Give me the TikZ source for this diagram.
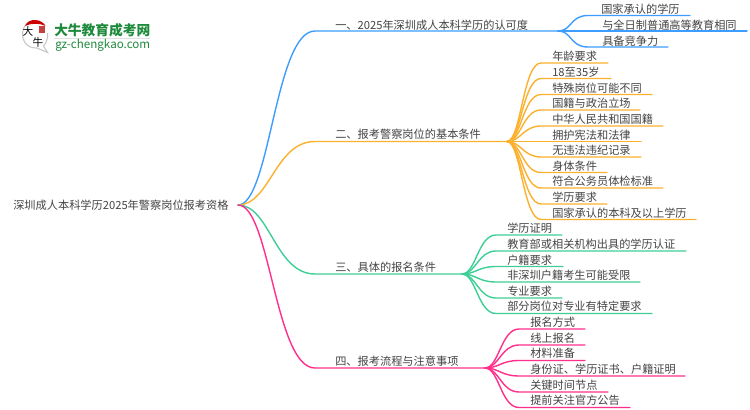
\documentclass[tikz,border=0pt]{standalone}
\usepackage{fontspec}
\setmainfont{Noto Sans CJK SC}
\usetikzlibrary{calc}
\definecolor{cblue}{HTML}{3D9DFF}
\definecolor{corange}{HTML}{FBB12D}
\definecolor{cgreen}{HTML}{3ECF97}
\definecolor{cpink}{HTML}{FF2F8B}
\definecolor{ctext}{HTML}{444444}
\definecolor{logogreen}{HTML}{1E8A3C}
\tikzset{
  lbl/.style={inner sep=0pt,anchor=west,yshift=-0.4pt,text=ctext,font=\fontsize{8.4pt}{10pt}\selectfont},
  conn/.style={line width=1.05pt,line cap=round},
}
% name, colour, junction, y line, x curve end, x line end, x text, y text, text
\newcommand\leaf[9]{%
  \node[lbl] (#1) at (#7,#8) {#9};
  \coordinate (#1s) at (#5,#4);
  \coordinate (#1e) at (#6,#4);
  \draw[conn,#2] (#3) .. controls ($(#3)+(14,0)$) and ($(#1s)+(-18,0)$) .. (#1s) -- (#1e);
}
\begin{document}
\begin{tikzpicture}[x=0.75pt,y=-0.75pt]
\useasboundingbox (0,0) rectangle (750,410);
\fill[white] (0,0) rectangle (750,410);
% root
\node[lbl] (root) at (13,205) {深圳成人本科学历2025年警察岗位报考资格};
\coordinate (r) at (238,205);
% main branches
\coordinate (j1) at (558,31);
\coordinate (j2) at (507,141.5);
\coordinate (j3) at (462,274);
\coordinate (j4) at (485,368);
\node[lbl] (b1) at (335,25) {一、2025年深圳成人本科学历的认可度};
\node[lbl] (b2) at (335,134) {二、报考警察岗位的基本条件};
\node[lbl] (b3) at (335,267) {三、具体的报名条件};
\node[lbl] (b4) at (335,361) {四、报考流程与注意事项};
\coordinate (b1s) at (315,31);
\coordinate (b2s) at (315,141.5);
\coordinate (b3s) at (315,274);
\coordinate (b4s) at (315,368);
\draw[conn,cblue] (r) .. controls (270,205) and (275,31) .. (b1s) -- (j1);
\draw[conn,corange] (r) .. controls (270,205) and (275,141.5) .. (b2s) -- (j2);
\draw[conn,cgreen] (r) .. controls (270,205) and (275,274) .. (b3s) -- (j3);
\draw[conn,cpink] (r) .. controls (270,205) and (275,368) .. (b4s) -- (j4);
% branch 1
\leaf{a1}{cblue}{j1}{15.5}{588}{690}{601}{9}{国家承认的学历}
\leaf{a2}{cblue}{j1}{31}{588}{747}{602}{25}{与全日制普通高等教育相同}
\leaf{a3}{cblue}{j1}{47}{588}{668}{602}{41}{具备竞争力}
% branch 2
\leaf{c1}{corange}{j2}{63}{541}{608}{552}{56}{年龄要求}
\leaf{c2}{corange}{j2}{78.5}{541}{611}{552}{72}{18至35岁}
\leaf{c3}{corange}{j2}{94.5}{541}{652}{552}{88}{特殊岗位可能不同}
\leaf{c4}{corange}{j2}{110}{541}{640}{552}{103}{国籍与政治立场}
\leaf{c5}{corange}{j2}{126}{541}{663}{552}{119}{中华人民共和国国籍}
\leaf{c6}{corange}{j2}{141.5}{541}{641}{552}{135}{拥护宪法和法律}
\leaf{c7}{corange}{j2}{157}{541}{641}{552}{150}{无违法违纪记录}
\leaf{c8}{corange}{j2}{172.5}{541}{607}{552}{166}{身体条件}
\leaf{c9}{corange}{j2}{188}{541}{663}{552}{181}{符合公务员体检标准}
\leaf{c10}{corange}{j2}{204}{541}{607}{552}{197}{学历要求}
\leaf{c11}{corange}{j2}{219.5}{541}{696}{552}{213}{国家承认的本科及以上学历}
% branch 3
\leaf{d1}{cgreen}{j3}{235}{496}{562}{507}{228}{学历证明}
\leaf{d2}{cgreen}{j3}{251}{496}{686}{507}{244}{教育部或相关机构出具的学历认证}
\leaf{d3}{cgreen}{j3}{266.5}{496}{563}{507}{260}{户籍要求}
\leaf{d4}{cgreen}{j3}{282}{496}{640}{507}{275}{非深圳户籍考生可能受限}
\leaf{d5}{cgreen}{j3}{298}{496}{562}{507}{291}{专业要求}
\leaf{d6}{cgreen}{j3}{313.5}{496}{652}{507}{306}{部分岗位对专业有特定要求}
% branch 4
\leaf{e1}{cpink}{j4}{329}{519}{585}{530}{322}{报名方式}
\leaf{e2}{cpink}{j4}{345}{519}{585}{530}{338}{线上报名}
\leaf{e3}{cpink}{j4}{360.5}{519}{585}{530}{353}{材料准备}
\leaf{e4}{cpink}{j4}{376}{519}{685}{530}{369}{身份证、学历证书、户籍证明}
\leaf{e5}{cpink}{j4}{392}{519}{608}{530}{385}{关键时间节点}
\leaf{e6}{cpink}{j4}{407.5}{519}{630}{530}{400}{提前关注官方公告}
% logo
\draw[line width=0.8pt,black!22,fill=white] (35,20.5) .. controls (27,20.5) and (22.5,27) .. (22.5,34) .. controls (22.5,43) and (29,48.5) .. (37,48) -- (47.5,52.5) -- (43.5,46) .. controls (47,42) and (48,38) .. (47.5,33);
\fill[red!80!black] (25,26) .. controls (27,21) and (32,20) .. (35,20) .. controls (40,20) and (44,23) .. (45.5,26) .. controls (40,23) and (31,23) .. (25,26);
\fill[red!70!black,opacity=.75] (39,26) rectangle (45,33);
\node[inner sep=0pt,text=black,font=\fontsize{8pt}{9pt}\selectfont] (lg1) at (28,31.5) {大};
\node[inner sep=0pt,text=black,font=\fontsize{8pt}{9pt}\selectfont] (lg2) at (38,42) {牛};
\node[inner sep=0pt,anchor=west,text=logogreen,font=\fontsize{10.3pt}{11pt}\selectfont\bfseries] (lg3) at (54,30) {大牛教育成考网};
\fill[black!12] (54,38) rectangle (150,39.2);
\node[inner sep=0pt,anchor=west,text=logogreen,font=\fontsize{8.7pt}{10pt}\selectfont] (lg4) at (55,45) {gz-chengkao.com};
\end{tikzpicture}
\end{document}
